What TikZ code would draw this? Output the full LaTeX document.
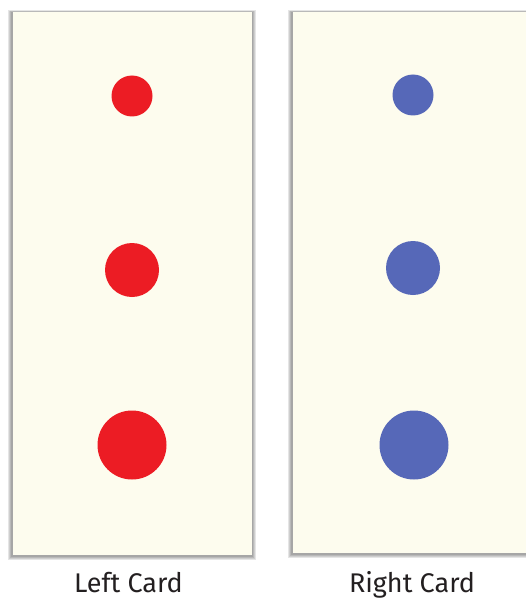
\documentclass[tikz,border=0pt]{standalone}
\usepackage{fontspec}
\setmainfont{Fira Sans}
\definecolor{cardfill}{HTML}{FDFCEE}
\definecolor{dotred}{HTML}{EC1C24}
\definecolor{dotblue}{HTML}{5668B8}
\definecolor{labeltext}{HTML}{231F20}
\tikzset{
  card/.style={fill=cardfill, draw=none},
  shade1/.style={fill=black, fill opacity=0.10, draw=none},
  reddot/.style={circle, fill=dotred, draw=none, inner sep=0pt},
  bluedot/.style={circle, fill=dotblue, draw=none, inner sep=0pt},
  cardlabel/.style={font=\fontsize{27}{30}\selectfont, text=labeltext, inner sep=0pt, anchor=base}
}
\begin{document}
\begin{tikzpicture}[x=1pt,y=-1pt]
\useasboundingbox (0,0) rectangle (526,599);
% shadows (soft, layered)
\foreach \i in {1,2,3,4}{
  \fill[shade1] (13-\i-0.8,12-\i*0.6+0.5) rectangle (252+\i-0.5,555+\i+0.5);
  \fill[shade1] (293-\i-0.8,12-\i*0.6+0.5) rectangle (540,553+\i+0.5);
}
% cards
\fill[card] (13,12) rectangle (252,555);
\fill[card] (293,12) rectangle (540,553);
% dots
\node[reddot, minimum size=41pt] (l1) at (132,96) {};
\node[reddot, minimum size=54pt] (l2) at (132,270) {};
\node[reddot, minimum size=69pt] (l3) at (132,445) {};
\node[bluedot, minimum size=41pt] (r1) at (413,95) {};
\node[bluedot, minimum size=54pt] (r2) at (413,268) {};
\node[bluedot, minimum size=69pt] (r3) at (414,445) {};
% labels
\node[cardlabel] (lt) at (128.5,592) {Left Card};
\node[cardlabel] (rt) at (412,592) {Right Card};
\end{tikzpicture}
\end{document}
